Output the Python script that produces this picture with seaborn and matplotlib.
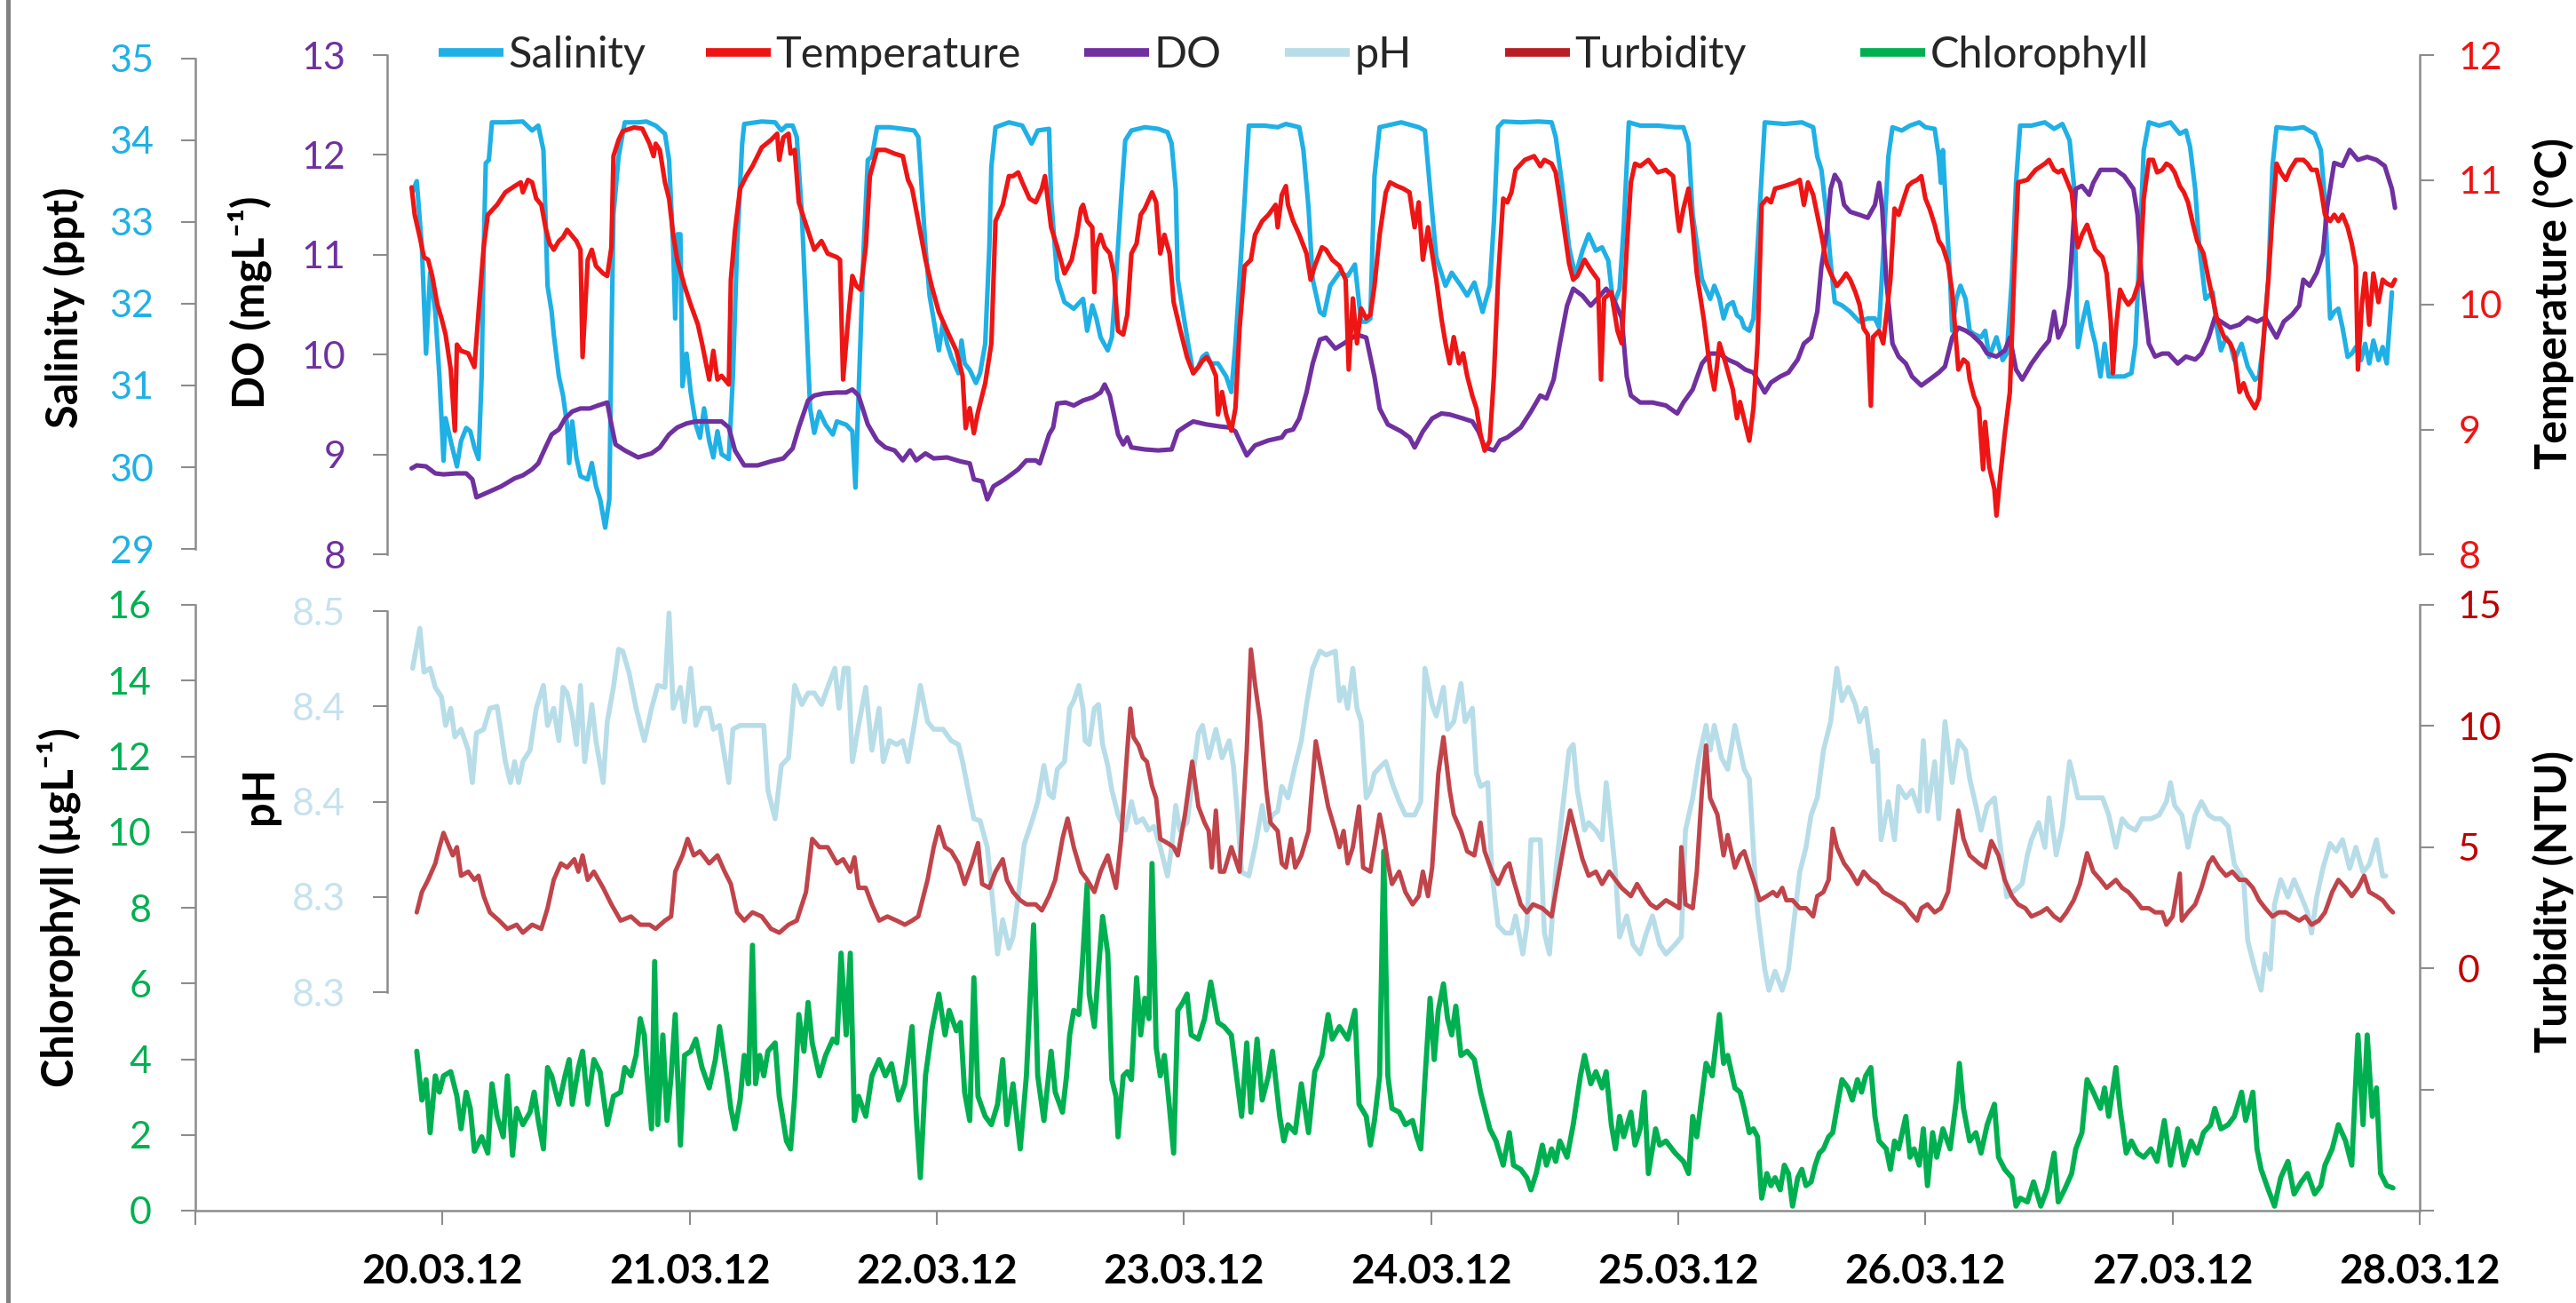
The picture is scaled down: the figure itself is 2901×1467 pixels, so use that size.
import pandas as pd
import matplotlib
matplotlib.use('Agg')
import matplotlib.pyplot as plt
from matplotlib.lines import Line2D
import seaborn as sns

# (hours since 19.03.12 00:00, value)
salinity = [
    (21.1, 33.37), (21.5, 33.50), (22.0, 32.69), (22.4, 31.39), (22.8, 32.38), (23.3, 31.90), (23.7, 31.11),
    (24.1, 30.08), (24.3, 30.60), (24.8, 30.32), (25.4, 30.01), (25.8, 30.32), (26.3, 30.48), (26.7, 30.44),
    (27.1, 30.24), (27.5, 30.10), (27.8, 31.11), (28.0, 32.65), (28.2, 33.72), (28.5, 33.76), (28.8, 34.22),
    (30.1, 34.22), (31.8, 34.23), (32.7, 34.12), (33.3, 34.18), (33.8, 33.88), (34.0, 33.09), (34.2, 32.22),
    (34.6, 31.90), (34.8, 31.63), (35.3, 31.11), (35.7, 30.88), (36.1, 30.52), (36.3, 30.05), (36.6, 30.56),
    (37.0, 30.12), (37.4, 29.89), (38.1, 29.85), (38.5, 30.05), (38.9, 29.77), (39.3, 29.61), (39.8, 29.26),
    (40.2, 29.61), (40.4, 31.51), (40.6, 33.09), (41.1, 33.80), (41.7, 34.22), (43.0, 34.22), (43.8, 34.23),
    (44.7, 34.18), (45.6, 34.08), (46.0, 33.76), (46.4, 32.69), (46.6, 31.82), (46.8, 32.85), (47.1, 32.85),
    (47.3, 30.99), (47.7, 31.39), (48.1, 30.92), (48.6, 30.52), (49.0, 30.36), (49.4, 30.72), (49.9, 30.32),
    (50.3, 30.12), (50.7, 30.44), (51.1, 30.16), (51.8, 30.10), (52.2, 31.11), (52.6, 32.69), (53.1, 33.96),
    (53.3, 34.20), (55.0, 34.23), (56.3, 34.22), (56.9, 34.12), (57.4, 34.18), (58.0, 34.18), (58.4, 34.04),
    (58.9, 33.09), (59.3, 31.90), (59.7, 30.72), (60.1, 30.42), (60.6, 30.68), (61.2, 30.52), (61.9, 30.40),
    (62.3, 30.56), (63.2, 30.52), (63.8, 30.44), (64.1, 29.75), (64.4, 30.88), (64.9, 32.69), (65.3, 33.76),
    (65.7, 33.80), (66.2, 34.16), (67.4, 34.16), (68.7, 34.14), (69.8, 34.12), (70.2, 34.04), (70.4, 33.68),
    (70.9, 32.69), (71.3, 32.10), (72.2, 31.43), (72.6, 31.78), (73.0, 31.51), (73.4, 31.35), (74.1, 31.15),
    (74.4, 31.55), (74.7, 31.27), (75.2, 31.19), (75.8, 31.03), (76.2, 31.15), (76.7, 31.51), (77.1, 32.69),
    (77.3, 33.68), (77.7, 34.16), (79.0, 34.22), (80.3, 34.18), (81.2, 33.96), (81.8, 34.12), (82.9, 34.14),
    (83.1, 33.29), (83.7, 32.30), (84.4, 32.02), (85.3, 31.94), (86.2, 32.06), (86.6, 31.67), (87.1, 31.98),
    (87.5, 31.82), (87.9, 31.59), (88.6, 31.43), (89.0, 31.59), (89.4, 32.30), (89.9, 33.29), (90.3, 34.00),
    (90.9, 34.12), (92.2, 34.16), (93.5, 34.14), (94.4, 34.10), (94.8, 33.96), (95.2, 33.40), (95.4, 32.30),
    (95.9, 31.90), (96.3, 31.59), (96.9, 31.15), (97.4, 31.23), (97.8, 31.35), (98.2, 31.39), (98.6, 31.27),
    (99.3, 31.27), (99.7, 31.19), (100.1, 31.11), (100.6, 30.92), (101.0, 31.51), (101.4, 32.30), (101.9, 33.29),
    (102.3, 34.18), (103.8, 34.18), (105.1, 34.16), (105.9, 34.20), (107.2, 34.16), (107.6, 33.88), (108.1, 33.17),
    (108.5, 32.30), (109.2, 31.90), (109.6, 31.86), (110.2, 32.22), (111.1, 32.38), (111.9, 32.34), (112.6, 32.48),
    (113.2, 31.78), (113.7, 31.78), (114.1, 31.82), (114.3, 32.69), (114.5, 33.56), (115.0, 34.16), (117.1, 34.22),
    (118.8, 34.16), (119.4, 34.12), (119.9, 33.40), (120.5, 32.57), (121.4, 32.22), (122.0, 32.38), (122.9, 32.22),
    (123.5, 32.10), (124.2, 32.26), (125.0, 31.90), (125.7, 32.22), (126.1, 33.01), (126.5, 34.16), (127.0, 34.23),
    (128.7, 34.22), (130.4, 34.23), (131.7, 34.22), (132.1, 34.04), (132.7, 33.48), (133.4, 32.69), (134.0, 32.34),
    (134.7, 32.65), (135.3, 32.85), (136.0, 32.65), (136.6, 32.69), (137.2, 32.53), (137.7, 31.98), (138.3, 32.18),
    (138.7, 32.93), (139.2, 34.22), (140.3, 34.18), (142.0, 34.18), (143.7, 34.16), (144.5, 34.16), (145.0, 33.96),
    (145.4, 33.09), (146.3, 32.30), (147.1, 32.06), (147.5, 32.22), (148.0, 32.06), (148.4, 31.82), (148.8, 31.98),
    (149.3, 32.02), (149.7, 31.86), (150.1, 31.82), (150.4, 31.71), (150.9, 31.67), (151.3, 31.82), (151.7, 32.69),
    (152.1, 33.56), (152.4, 34.22), (154.3, 34.20), (156.0, 34.22), (157.1, 34.16), (157.5, 33.80), (157.9, 33.64),
    (158.4, 33.09), (158.8, 32.50), (159.2, 32.02), (159.9, 31.98), (160.7, 31.90), (161.6, 31.78), (162.4, 31.82),
    (163.1, 31.82), (163.5, 31.71), (163.9, 32.61), (164.4, 33.80), (164.8, 34.16), (165.7, 34.12), (166.5, 34.18),
    (167.4, 34.22), (168.0, 34.16), (168.9, 34.14), (169.3, 33.80), (169.5, 33.48), (169.7, 33.88), (169.9, 33.40),
    (170.4, 32.30), (170.6, 31.67), (171.0, 32.06), (171.4, 32.22), (171.9, 32.06), (172.3, 31.67), (172.7, 31.63),
    (173.4, 31.59), (173.8, 31.67), (174.2, 31.35), (174.9, 31.59), (175.5, 31.31), (175.9, 31.39), (176.4, 32.30),
    (176.8, 33.48), (177.2, 34.18), (178.3, 34.18), (179.6, 34.22), (180.5, 34.14), (181.3, 34.20), (182.0, 34.00),
    (182.4, 33.48), (182.8, 31.47), (183.2, 31.75), (183.7, 32.02), (184.1, 31.71), (184.5, 31.51), (185.0, 31.11),
    (185.4, 31.51), (185.8, 31.11), (186.5, 31.11), (187.3, 31.11), (188.0, 31.15), (188.4, 31.51), (188.8, 32.69),
    (189.2, 33.88), (189.7, 34.22), (190.7, 34.18), (191.8, 34.22), (192.7, 34.08), (193.3, 34.12), (193.7, 33.92),
    (194.2, 33.40), (194.6, 32.69), (195.2, 32.06), (195.9, 32.14), (196.3, 31.71), (196.7, 31.43), (197.2, 31.59),
    (197.6, 31.51), (198.0, 31.31), (198.7, 31.51), (199.3, 31.23), (200.0, 31.07), (200.4, 31.11), (200.8, 31.51),
    (201.3, 32.30), (201.7, 33.68), (202.1, 34.16), (203.6, 34.14), (204.7, 34.16), (205.8, 34.08), (206.4, 33.88),
    (206.8, 33.25), (207.3, 31.82), (207.7, 31.90), (208.1, 31.94), (208.5, 31.71), (209.0, 31.35), (209.4, 31.39),
    (209.8, 31.47), (210.3, 31.31), (210.7, 31.51), (211.1, 31.27), (211.5, 31.55), (212.0, 31.31), (212.4, 31.47),
    (212.8, 31.27), (213.3, 32.14),
]

temperature = [
    (21.0, 10.94), (21.3, 10.72), (21.8, 10.54), (22.2, 10.38), (22.6, 10.36), (23.0, 10.23), (23.5, 10.00),
    (23.9, 9.89), (24.3, 9.76), (24.8, 9.48), (25.2, 8.99), (25.4, 9.68), (25.8, 9.63), (26.5, 9.61), (27.1, 9.50),
    (27.5, 9.94), (28.0, 10.46), (28.4, 10.72), (29.3, 10.80), (30.1, 10.90), (31.0, 10.95), (31.6, 10.98),
    (31.8, 10.90), (32.3, 11.00), (32.7, 10.98), (33.1, 10.85), (33.6, 10.80), (34.0, 10.62), (34.4, 10.49),
    (34.8, 10.44), (35.3, 10.51), (35.7, 10.54), (36.1, 10.60), (36.6, 10.55), (37.0, 10.51), (37.4, 10.44),
    (37.6, 9.58), (38.1, 10.36), (38.5, 10.44), (38.9, 10.31), (39.6, 10.25), (40.0, 10.23), (40.4, 10.46),
    (40.6, 11.19), (41.1, 11.32), (41.5, 11.39), (42.6, 11.42), (43.4, 11.41), (44.1, 11.29), (44.5, 11.19),
    (44.7, 11.29), (45.1, 11.24), (45.6, 10.98), (46.0, 10.85), (46.4, 10.56), (46.8, 10.36), (47.5, 10.15),
    (48.1, 10.00), (48.8, 9.84), (49.2, 9.69), (49.9, 9.40), (50.3, 9.63), (50.7, 9.40), (51.1, 9.43), (51.8, 9.36),
    (52.0, 10.20), (52.4, 10.59), (52.9, 10.93), (53.5, 11.03), (54.1, 11.11), (55.0, 11.26), (55.9, 11.32),
    (56.5, 11.37), (56.7, 11.16), (57.1, 11.34), (57.6, 11.37), (57.8, 11.21), (58.2, 11.24), (58.6, 10.82),
    (59.1, 10.69), (59.5, 10.59), (60.1, 10.44), (60.8, 10.51), (61.4, 10.41), (62.3, 10.38), (62.6, 10.36),
    (62.9, 9.40), (63.4, 9.89), (63.8, 10.23), (64.2, 10.15), (64.6, 10.12), (65.1, 10.46), (65.5, 11.03),
    (66.2, 11.24), (67.0, 11.24), (67.9, 11.21), (68.7, 11.19), (69.2, 11.00), (69.6, 10.93), (70.2, 10.67),
    (70.9, 10.36), (71.5, 10.15), (72.2, 9.94), (73.0, 9.79), (73.9, 9.63), (74.5, 9.43), (74.8, 9.01),
    (75.2, 9.17), (75.6, 8.97), (76.0, 9.14), (76.7, 9.37), (77.3, 9.69), (77.7, 10.67), (78.4, 10.80),
    (79.0, 11.03), (79.4, 11.03), (79.9, 11.06), (80.3, 10.98), (81.0, 10.85), (81.6, 10.82), (82.2, 10.93),
    (82.5, 11.03), (83.1, 10.62), (83.7, 10.46), (84.4, 10.25), (85.1, 10.36), (85.6, 10.56), (86.0, 10.77),
    (86.2, 10.80), (86.6, 10.67), (87.1, 10.62), (87.3, 10.10), (87.5, 10.46), (87.9, 10.56), (88.3, 10.46),
    (88.8, 10.41), (89.2, 10.25), (89.6, 9.79), (90.1, 9.76), (90.5, 9.92), (90.9, 10.41), (91.4, 10.49),
    (91.8, 10.72), (92.2, 10.77), (92.9, 10.90), (93.3, 10.82), (93.5, 10.62), (93.7, 10.41), (94.1, 10.56),
    (94.6, 10.41), (95.0, 10.02), (95.6, 9.81), (96.3, 9.58), (96.9, 9.45), (97.4, 9.50), (97.8, 9.55),
    (98.2, 9.58), (98.6, 9.53), (99.1, 9.43), (99.3, 9.12), (99.7, 9.30), (100.1, 9.12), (100.6, 8.99),
    (101.0, 9.17), (101.4, 9.81), (101.9, 10.31), (102.5, 10.36), (102.9, 10.56), (103.6, 10.67), (104.2, 10.72),
    (104.9, 10.80), (105.1, 10.62), (105.5, 10.88), (105.9, 10.95), (106.1, 10.80), (106.6, 10.67), (107.2, 10.56),
    (107.9, 10.41), (108.3, 10.20), (108.7, 10.31), (109.4, 10.46), (109.8, 10.44), (110.4, 10.36), (111.1, 10.31),
    (111.7, 10.20), (112.0, 9.48), (112.4, 10.05), (112.8, 9.69), (113.2, 9.97), (113.7, 9.89), (114.1, 9.92),
    (114.5, 10.15), (115.0, 10.56), (115.6, 10.90), (116.0, 10.98), (116.7, 10.95), (117.3, 10.93), (117.9, 10.90),
    (118.4, 10.62), (118.8, 10.82), (119.2, 10.36), (119.7, 10.62), (120.1, 10.41), (120.5, 10.20), (121.0, 9.89),
    (121.4, 9.69), (121.8, 9.53), (122.2, 9.74), (122.7, 9.53), (123.1, 9.61), (123.5, 9.43), (124.0, 9.27),
    (124.4, 9.17), (124.8, 8.96), (125.2, 8.83), (125.7, 8.91), (126.1, 9.43), (126.5, 10.20), (127.0, 10.85),
    (127.4, 10.82), (127.8, 10.90), (128.2, 11.08), (129.1, 11.16), (130.0, 11.19), (130.6, 11.11), (131.0, 11.16),
    (131.7, 11.13), (132.1, 11.06), (132.5, 10.85), (133.0, 10.56), (133.4, 10.33), (133.8, 10.20), (134.2, 10.23),
    (134.9, 10.36), (135.5, 10.28), (136.2, 10.20), (136.5, 9.40), (136.8, 10.05), (137.5, 10.10), (138.1, 9.79),
    (138.5, 9.69), (139.0, 10.46), (139.4, 10.98), (139.8, 11.13), (140.3, 11.11), (141.1, 11.16), (142.0, 11.06),
    (142.8, 11.08), (143.5, 11.03), (143.9, 10.72), (144.1, 10.59), (144.5, 10.77), (145.0, 10.93), (145.4, 10.62),
    (145.8, 10.25), (146.5, 9.87), (147.1, 9.48), (147.5, 9.32), (148.0, 9.69), (148.6, 9.53), (149.3, 9.32),
    (149.7, 9.09), (150.0, 9.22), (150.9, 8.91), (151.3, 9.17), (151.7, 9.69), (152.1, 10.80), (152.6, 10.85),
    (153.0, 10.82), (153.4, 10.93), (154.3, 10.95), (155.4, 10.98), (155.8, 11.00), (156.2, 10.80), (156.6, 10.98),
    (157.1, 10.88), (157.5, 10.72), (157.9, 10.56), (158.4, 10.33), (158.8, 10.25), (159.4, 10.15), (159.9, 10.20),
    (160.3, 10.25), (160.7, 10.20), (161.2, 10.10), (161.6, 10.00), (162.0, 9.81), (162.4, 9.76), (162.7, 9.19),
    (162.9, 9.74), (163.5, 9.79), (163.9, 9.69), (164.6, 10.20), (165.0, 10.77), (165.4, 10.72), (165.9, 10.85),
    (166.3, 10.95), (166.7, 10.98), (167.2, 11.00), (167.6, 11.03), (168.0, 10.85), (168.4, 10.77), (168.9, 10.64),
    (169.3, 10.51), (169.7, 10.46), (170.2, 10.33), (170.6, 10.10), (171.0, 9.69), (171.2, 9.48), (171.7, 9.56),
    (172.1, 9.53), (172.3, 9.40), (172.7, 9.27), (173.2, 9.17), (173.6, 8.68), (173.8, 9.06), (174.2, 8.70),
    (174.7, 8.52), (174.9, 8.31), (175.3, 8.65), (175.7, 8.96), (176.2, 9.30), (176.6, 10.20), (177.0, 10.98),
    (177.9, 11.00), (178.7, 11.08), (179.6, 11.13), (180.0, 11.16), (180.5, 11.08), (180.9, 11.06), (181.3, 11.08),
    (181.7, 11.00), (182.2, 10.90), (182.6, 10.59), (182.8, 10.46), (183.2, 10.56), (183.7, 10.64), (184.1, 10.54),
    (184.5, 10.44), (185.2, 10.38), (185.6, 10.25), (186.0, 9.87), (186.2, 9.45), (186.5, 9.81), (186.9, 10.12),
    (187.3, 10.05), (187.7, 10.00), (188.2, 10.05), (188.8, 10.20), (189.2, 10.85), (189.7, 11.16), (190.1, 11.16),
    (190.5, 11.06), (191.0, 11.08), (191.4, 11.13), (191.8, 11.11), (192.2, 11.06), (192.7, 10.95), (193.1, 10.90),
    (193.5, 10.82), (194.0, 10.64), (194.4, 10.51), (195.0, 10.41), (195.5, 10.20), (195.9, 10.05), (196.3, 9.89),
    (197.0, 9.74), (197.6, 9.69), (198.0, 9.61), (198.5, 9.30), (198.9, 9.37), (199.3, 9.27), (200.0, 9.17),
    (200.4, 9.25), (200.8, 9.69), (201.3, 10.20), (201.7, 10.72), (202.1, 11.13), (202.5, 11.06), (203.0, 11.00),
    (203.4, 11.08), (204.0, 11.16), (204.7, 11.16), (205.1, 11.13), (205.5, 11.08), (206.0, 11.08), (206.4, 10.93),
    (206.8, 10.72), (207.3, 10.67), (207.7, 10.72), (208.1, 10.67), (208.5, 10.72), (209.0, 10.62), (209.4, 10.49),
    (209.8, 10.31), (210.0, 9.48), (210.4, 10.02), (210.7, 10.25), (211.1, 9.84), (211.5, 10.25), (212.0, 10.02),
    (212.4, 10.20), (212.8, 10.17), (213.3, 10.15), (213.6, 10.20),
]

dissolved_oxygen = [
    (21.0, 8.86), (21.5, 8.89), (22.4, 8.88), (23.3, 8.81), (24.1, 8.80), (25.4, 8.81), (26.3, 8.81), (26.9, 8.75),
    (27.3, 8.57), (28.4, 8.62), (29.7, 8.68), (31.0, 8.76), (31.8, 8.79), (32.7, 8.85), (33.3, 8.91), (34.0, 9.07),
    (34.6, 9.20), (35.3, 9.25), (35.9, 9.36), (36.6, 9.43), (37.4, 9.46), (38.3, 9.46), (39.1, 9.49), (40.0, 9.52),
    (40.4, 9.30), (40.8, 9.10), (41.7, 9.04), (43.0, 8.97), (44.3, 9.01), (45.1, 9.07), (46.0, 9.20), (46.8, 9.27),
    (47.7, 9.31), (48.6, 9.33), (49.9, 9.33), (51.1, 9.33), (51.8, 9.27), (52.4, 9.04), (53.3, 8.89), (54.6, 8.89),
    (55.9, 8.93), (57.1, 8.96), (58.0, 9.06), (58.6, 9.27), (59.5, 9.54), (60.1, 9.59), (61.0, 9.61), (62.3, 9.62),
    (63.2, 9.62), (63.8, 9.65), (64.4, 9.59), (65.3, 9.30), (66.2, 9.14), (67.0, 9.07), (67.9, 9.04), (68.7, 8.94),
    (69.4, 9.04), (70.0, 8.94), (70.9, 9.01), (71.7, 8.96), (73.0, 8.97), (74.3, 8.93), (75.2, 8.91), (75.6, 8.75),
    (76.4, 8.73), (76.9, 8.55), (77.5, 8.68), (78.6, 8.75), (79.9, 8.85), (80.7, 8.94), (81.6, 8.94), (82.0, 8.91),
    (82.9, 9.20), (83.3, 9.27), (83.7, 9.51), (84.5, 9.52), (85.3, 9.49), (86.2, 9.54), (87.1, 9.57), (87.9, 9.62),
    (88.3, 9.70), (88.8, 9.59), (89.2, 9.40), (89.6, 9.20), (90.1, 9.10), (90.5, 9.17), (90.9, 9.07), (92.2, 9.05),
    (93.5, 9.04), (94.8, 9.05), (95.4, 9.23), (96.1, 9.28), (96.9, 9.33), (98.2, 9.30), (99.5, 9.28), (100.4, 9.27),
    (101.0, 9.23), (101.4, 9.14), (102.1, 8.99), (102.9, 9.09), (104.2, 9.14), (105.5, 9.17), (105.9, 9.23),
    (106.6, 9.25), (107.2, 9.36), (107.9, 9.62), (108.5, 9.91), (109.2, 10.15), (109.8, 10.17), (110.7, 10.06),
    (111.5, 10.11), (112.8, 10.20), (113.7, 10.17), (114.5, 9.78), (115.0, 9.46), (115.8, 9.30), (117.1, 9.23),
    (117.9, 9.17), (118.4, 9.07), (119.2, 9.23), (120.1, 9.36), (121.0, 9.41), (121.8, 9.40), (123.1, 9.36),
    (124.0, 9.33), (124.6, 9.23), (125.2, 9.07), (126.1, 9.04), (126.7, 9.14), (127.4, 9.17), (128.7, 9.27),
    (129.7, 9.43), (130.6, 9.59), (131.2, 9.56), (131.9, 9.75), (132.5, 10.11), (133.2, 10.49), (133.8, 10.66),
    (134.7, 10.59), (135.5, 10.49), (136.4, 10.59), (137.0, 10.66), (137.7, 10.56), (138.5, 10.37), (139.0, 9.78),
    (139.4, 9.59), (140.3, 9.52), (141.5, 9.52), (142.8, 9.49), (143.9, 9.41), (144.5, 9.52), (145.4, 9.65),
    (146.3, 9.91), (147.1, 10.01), (148.0, 10.01), (148.8, 9.95), (149.7, 9.91), (150.5, 9.85), (151.3, 9.82),
    (152.4, 9.62), (153.0, 9.72), (153.9, 9.78), (154.7, 9.82), (155.6, 9.95), (156.2, 10.11), (156.9, 10.17),
    (157.5, 10.43), (157.9, 10.88), (158.4, 11.21), (158.8, 11.66), (159.2, 11.80), (159.7, 11.72), (160.1, 11.50),
    (160.7, 11.43), (161.6, 11.40), (162.4, 11.37), (163.1, 11.50), (163.5, 11.72), (163.8, 11.47), (164.2, 10.75),
    (164.8, 10.11), (165.4, 9.98), (166.1, 9.91), (166.7, 9.78), (167.6, 9.69), (168.4, 9.75), (169.3, 9.82),
    (169.9, 9.88), (170.6, 10.17), (171.2, 10.27), (171.9, 10.24), (172.5, 10.20), (173.4, 10.11), (174.0, 10.01),
    (174.9, 9.98), (175.7, 10.04), (176.2, 10.17), (176.8, 9.85), (177.4, 9.75), (178.3, 9.91), (179.2, 10.04),
    (180.0, 10.14), (180.5, 10.43), (180.9, 10.17), (181.5, 10.30), (182.0, 10.69), (182.6, 11.66), (183.2, 11.69),
    (183.9, 11.60), (184.3, 11.72), (185.0, 11.85), (185.6, 11.85), (186.5, 11.85), (187.3, 11.79), (188.2, 11.66),
    (188.6, 11.40), (189.0, 10.75), (189.7, 10.11), (190.3, 9.98), (191.0, 10.01), (191.6, 10.01), (192.5, 9.91),
    (193.3, 9.98), (194.2, 9.95), (194.8, 10.01), (195.5, 10.17), (196.1, 10.37), (196.7, 10.33), (197.6, 10.27),
    (198.5, 10.30), (199.3, 10.37), (200.2, 10.33), (201.0, 10.37), (201.7, 10.24), (202.1, 10.17), (202.8, 10.33),
    (203.6, 10.40), (204.3, 10.49), (204.7, 10.75), (205.3, 10.69), (206.0, 10.82), (206.6, 11.01), (207.0, 11.47),
    (207.7, 11.92), (208.5, 11.89), (209.2, 12.05), (210.0, 11.95), (210.9, 11.98), (211.8, 11.95), (212.6, 11.89),
    (213.3, 11.66), (213.6, 11.47),
]

ph = [
    (21.1, 8.470), (21.8, 8.491), (22.2, 8.468), (22.8, 8.470), (23.3, 8.460), (23.9, 8.455), (24.3, 8.440),
    (24.8, 8.449), (25.2, 8.434), (25.8, 8.438), (26.5, 8.427), (26.9, 8.410), (27.3, 8.436), (28.0, 8.438),
    (28.6, 8.449), (29.3, 8.450), (29.7, 8.436), (30.1, 8.421), (30.6, 8.410), (31.0, 8.421), (31.4, 8.410),
    (31.8, 8.421), (32.5, 8.427), (33.1, 8.449), (33.8, 8.461), (34.2, 8.440), (34.8, 8.449), (35.3, 8.432),
    (35.7, 8.460), (36.1, 8.457), (36.6, 8.445), (37.0, 8.430), (37.4, 8.461), (37.8, 8.421), (38.5, 8.451),
    (38.9, 8.432), (39.6, 8.410), (40.0, 8.442), (40.6, 8.460), (41.1, 8.480), (41.5, 8.479), (42.1, 8.468),
    (42.8, 8.449), (43.6, 8.432), (44.3, 8.449), (44.9, 8.461), (45.6, 8.460), (46.0, 8.499), (46.4, 8.449),
    (47.1, 8.460), (47.5, 8.442), (48.1, 8.470), (48.6, 8.440), (49.2, 8.449), (49.9, 8.449), (50.3, 8.438),
    (50.9, 8.440), (51.8, 8.410), (52.2, 8.438), (52.9, 8.440), (54.1, 8.440), (55.2, 8.440), (55.6, 8.406),
    (56.3, 8.391), (56.9, 8.419), (57.6, 8.423), (58.2, 8.461), (58.9, 8.451), (59.5, 8.457), (60.1, 8.457),
    (60.8, 8.451), (61.4, 8.460), (62.1, 8.470), (62.5, 8.449), (63.0, 8.470), (63.4, 8.470), (63.8, 8.421),
    (64.4, 8.440), (65.1, 8.460), (65.7, 8.427), (66.4, 8.449), (66.8, 8.421), (67.4, 8.432), (68.1, 8.430),
    (68.7, 8.432), (69.2, 8.421), (69.8, 8.440), (70.4, 8.461), (71.1, 8.442), (71.7, 8.438), (72.6, 8.438),
    (73.4, 8.432), (74.1, 8.430), (74.5, 8.421), (74.9, 8.410), (75.6, 8.391), (76.2, 8.390), (76.9, 8.376),
    (77.3, 8.355), (77.9, 8.320), (78.4, 8.338), (79.0, 8.323), (79.4, 8.329), (79.9, 8.350), (80.5, 8.378),
    (81.2, 8.389), (81.8, 8.400), (82.4, 8.419), (82.9, 8.404), (83.3, 8.402), (83.7, 8.417), (84.4, 8.421),
    (84.9, 8.449), (85.3, 8.453), (85.8, 8.461), (86.2, 8.449), (86.4, 8.432), (86.8, 8.430), (87.3, 8.449),
    (87.7, 8.451), (88.1, 8.430), (88.6, 8.419), (89.0, 8.406), (89.6, 8.393), (90.3, 8.385), (90.9, 8.400),
    (91.4, 8.389), (92.0, 8.391), (92.6, 8.385), (93.1, 8.387), (93.7, 8.376), (94.4, 8.361), (94.8, 8.376),
    (95.2, 8.398), (95.6, 8.385), (96.3, 8.389), (96.7, 8.406), (97.4, 8.436), (97.8, 8.440), (98.4, 8.423),
    (99.1, 8.438), (99.7, 8.423), (100.4, 8.432), (100.8, 8.419), (101.2, 8.393), (101.6, 8.363), (102.3, 8.361),
    (102.9, 8.376), (103.6, 8.398), (104.0, 8.385), (104.6, 8.393), (105.1, 8.395), (105.5, 8.408), (106.1, 8.402),
    (106.8, 8.419), (107.4, 8.432), (107.9, 8.451), (108.5, 8.470), (109.2, 8.479), (109.8, 8.477), (110.7, 8.479),
    (111.1, 8.453), (111.5, 8.460), (111.9, 8.449), (112.4, 8.470), (112.8, 8.449), (113.2, 8.442), (113.7, 8.402),
    (114.1, 8.406), (114.5, 8.415), (115.2, 8.419), (115.6, 8.421), (116.2, 8.410), (116.9, 8.400), (117.5, 8.393),
    (118.4, 8.393), (119.0, 8.400), (119.4, 8.470), (120.1, 8.451), (120.5, 8.445), (121.2, 8.460), (121.6, 8.438),
    (122.2, 8.442), (122.9, 8.462), (123.3, 8.442), (124.0, 8.449), (124.4, 8.415), (124.8, 8.408), (125.5, 8.410),
    (125.9, 8.363), (126.5, 8.335), (127.2, 8.331), (127.8, 8.331), (128.2, 8.340), (128.9, 8.320), (129.3, 8.335),
    (129.7, 8.380), (130.2, 8.380), (130.6, 8.380), (131.0, 8.331), (131.5, 8.320), (132.1, 8.363), (132.7, 8.393),
    (133.4, 8.427), (133.8, 8.430), (134.2, 8.406), (134.9, 8.385), (135.3, 8.389), (136.0, 8.385), (136.6, 8.380),
    (137.0, 8.410), (137.5, 8.385), (137.9, 8.363), (138.3, 8.329), (139.0, 8.340), (139.6, 8.325), (140.3, 8.320),
    (140.9, 8.331), (141.5, 8.340), (142.2, 8.325), (142.8, 8.320), (143.7, 8.325), (144.3, 8.329), (144.7, 8.385),
    (145.4, 8.402), (146.0, 8.423), (146.7, 8.440), (147.1, 8.427), (147.5, 8.440), (148.2, 8.423), (148.8, 8.417),
    (149.5, 8.440), (150.4, 8.417), (150.9, 8.412), (151.3, 8.374), (151.7, 8.342), (152.4, 8.312), (152.8, 8.301),
    (153.4, 8.311), (154.1, 8.301), (154.7, 8.312), (155.1, 8.331), (155.8, 8.363), (156.4, 8.376), (156.9, 8.393),
    (157.5, 8.402), (158.1, 8.427), (158.8, 8.442), (159.4, 8.470), (159.9, 8.453), (160.5, 8.460), (161.2, 8.451),
    (161.6, 8.442), (162.2, 8.449), (162.9, 8.421), (163.3, 8.427), (163.7, 8.380), (164.4, 8.400), (165.0, 8.380),
    (165.4, 8.408), (166.1, 8.402), (166.7, 8.406), (167.4, 8.395), (167.8, 8.432), (168.2, 8.395), (168.9, 8.421),
    (169.3, 8.391), (169.9, 8.442), (170.6, 8.410), (171.2, 8.432), (171.9, 8.427), (172.3, 8.412), (172.9, 8.398),
    (173.4, 8.385), (174.0, 8.398), (174.7, 8.402), (175.3, 8.376), (175.9, 8.350), (176.6, 8.353), (177.4, 8.357),
    (177.9, 8.372), (178.3, 8.380), (179.0, 8.389), (179.6, 8.376), (180.0, 8.402), (180.7, 8.372), (181.3, 8.387),
    (182.0, 8.421), (182.4, 8.412), (182.8, 8.402), (183.5, 8.402), (184.3, 8.402), (185.2, 8.402), (185.8, 8.393),
    (186.5, 8.376), (187.1, 8.391), (187.7, 8.387), (188.4, 8.385), (189.0, 8.391), (189.9, 8.391), (190.7, 8.393),
    (191.4, 8.400), (191.8, 8.410), (192.2, 8.398), (192.9, 8.393), (193.5, 8.376), (194.2, 8.393), (194.8, 8.400),
    (195.5, 8.393), (196.1, 8.391), (196.7, 8.391), (197.4, 8.387), (198.0, 8.367), (198.9, 8.359), (199.3, 8.327),
    (200.0, 8.312), (200.6, 8.301), (201.0, 8.320), (201.5, 8.312), (201.9, 8.346), (202.5, 8.359), (203.2, 8.350),
    (203.8, 8.359), (204.5, 8.350), (205.1, 8.342), (205.5, 8.331), (206.0, 8.350), (206.6, 8.365), (207.3, 8.378),
    (207.9, 8.374), (208.5, 8.380), (209.2, 8.365), (209.8, 8.376), (210.5, 8.363), (211.1, 8.367), (211.8, 8.380),
    (212.4, 8.361), (212.7, 8.361),
]

turbidity = [
    (21.5, 2.31), (22.0, 3.15), (22.6, 3.65), (23.3, 4.33), (23.7, 5.00), (24.1, 5.59), (24.5, 5.17), (25.0, 4.66),
    (25.4, 5.00), (25.8, 3.82), (26.5, 3.99), (27.1, 3.65), (27.5, 3.82), (28.0, 2.98), (28.6, 2.31), (29.5, 1.97),
    (30.3, 1.63), (31.2, 1.80), (31.8, 1.47), (32.7, 1.80), (33.6, 1.63), (34.2, 2.48), (34.8, 3.65), (35.5, 4.33),
    (36.1, 4.16), (36.8, 4.50), (37.2, 3.99), (37.6, 4.66), (38.1, 3.65), (38.7, 3.99), (39.6, 3.32), (40.4, 2.64),
    (41.3, 1.97), (42.3, 2.14), (43.2, 1.80), (44.1, 1.80), (44.7, 1.63), (45.6, 1.97), (46.2, 2.14), (46.6, 3.99),
    (47.3, 4.66), (47.8, 5.34), (48.4, 4.66), (49.0, 4.83), (49.9, 4.33), (50.7, 4.66), (51.4, 3.99), (52.0, 3.48),
    (52.6, 2.31), (53.3, 1.97), (54.1, 2.31), (55.0, 2.14), (55.9, 1.63), (56.7, 1.47), (57.6, 1.80), (58.4, 1.97),
    (59.3, 3.15), (59.9, 5.34), (60.6, 5.00), (61.4, 5.00), (62.3, 4.33), (62.9, 4.50), (63.6, 3.99), (64.0, 4.58),
    (64.4, 3.32), (65.1, 3.32), (65.7, 2.64), (66.4, 1.97), (67.2, 2.14), (68.1, 1.97), (68.9, 1.80), (69.6, 1.97),
    (70.2, 2.14), (71.1, 3.65), (71.7, 5.00), (72.2, 5.84), (72.8, 5.00), (73.4, 4.83), (74.1, 4.33), (74.7, 3.48),
    (75.4, 4.33), (76.0, 5.17), (76.4, 3.48), (77.1, 3.32), (77.7, 3.99), (78.4, 4.50), (78.8, 3.65), (79.4, 3.15),
    (80.1, 2.81), (80.7, 2.64), (81.6, 2.64), (82.2, 2.39), (82.9, 2.98), (83.5, 3.65), (84.2, 5.34), (84.7, 6.18),
    (85.3, 5.00), (86.0, 3.99), (86.6, 3.65), (87.3, 3.15), (87.9, 3.99), (88.6, 4.66), (89.0, 3.99), (89.4, 3.32),
    (89.9, 5.34), (90.5, 9.04), (90.8, 10.72), (91.1, 9.54), (91.6, 9.20), (92.0, 8.70), (92.4, 8.53), (92.9, 7.52),
    (93.3, 7.02), (93.7, 5.34), (94.4, 5.17), (95.0, 5.00), (95.4, 4.66), (96.1, 6.35), (96.8, 8.53), (97.4, 6.68),
    (98.0, 6.01), (98.4, 5.67), (98.7, 4.16), (99.1, 6.51), (99.5, 3.99), (99.9, 3.99), (100.6, 5.00), (101.0, 4.50),
    (101.4, 3.99), (102.1, 9.04), (102.5, 13.16), (102.9, 11.73), (103.4, 10.22), (104.0, 7.36), (104.4, 6.01),
    (105.1, 5.67), (105.5, 4.33), (105.9, 4.16), (106.4, 5.34), (106.8, 4.16), (107.4, 4.66), (108.1, 5.67),
    (108.8, 9.37), (109.4, 8.03), (110.0, 6.68), (110.7, 5.67), (111.1, 5.00), (111.5, 5.67), (111.9, 4.33),
    (112.4, 5.00), (113.0, 6.68), (113.4, 4.16), (114.1, 3.99), (114.5, 5.00), (115.0, 6.35), (115.4, 5.50),
    (115.8, 4.33), (116.2, 3.48), (116.9, 3.99), (117.5, 3.15), (118.2, 2.64), (118.8, 2.98), (119.2, 3.99),
    (119.7, 2.98), (120.1, 4.16), (120.7, 8.03), (121.2, 9.54), (121.8, 7.36), (122.2, 6.35), (122.9, 5.67),
    (123.5, 4.83), (124.2, 4.66), (124.8, 6.01), (125.2, 4.83), (125.9, 3.99), (126.5, 3.48), (127.2, 4.16),
    (127.6, 4.33), (128.0, 3.65), (128.7, 2.64), (129.3, 2.31), (129.9, 2.64), (130.8, 2.48), (131.7, 2.14),
    (132.3, 3.65), (133.0, 5.34), (133.5, 6.51), (134.0, 5.67), (134.7, 4.50), (135.3, 3.82), (136.0, 3.99),
    (136.6, 3.48), (137.3, 3.99), (137.9, 3.65), (138.5, 3.32), (139.4, 2.98), (140.0, 3.48), (140.7, 2.98),
    (141.3, 2.64), (141.9, 2.48), (142.8, 2.81), (143.5, 2.64), (144.1, 2.48), (144.3, 5.00), (144.7, 2.64),
    (145.4, 2.48), (145.8, 3.99), (146.3, 7.36), (146.7, 9.20), (147.1, 7.02), (147.8, 6.35), (148.4, 4.66),
    (148.8, 5.50), (149.5, 4.16), (150.0, 4.66), (150.4, 4.83), (150.9, 4.16), (151.3, 3.65), (151.9, 2.81),
    (152.6, 2.98), (153.2, 3.15), (153.6, 2.98), (154.1, 3.32), (154.5, 2.81), (155.1, 2.81), (155.8, 2.48),
    (156.4, 2.48), (157.1, 2.14), (157.5, 2.98), (158.1, 3.15), (158.6, 3.65), (159.0, 5.76), (159.4, 5.00),
    (160.1, 4.33), (160.7, 3.99), (161.4, 3.48), (162.0, 3.99), (162.7, 3.65), (163.3, 3.48), (163.9, 3.15),
    (164.6, 2.98), (165.2, 2.81), (165.9, 2.64), (166.5, 2.31), (167.2, 1.97), (167.6, 2.48), (168.2, 2.64),
    (168.9, 2.31), (169.5, 2.48), (170.2, 3.15), (170.7, 4.83), (171.2, 6.51), (171.7, 5.34), (172.3, 4.66),
    (173.2, 4.33), (173.8, 4.16), (174.4, 5.25), (175.1, 4.66), (175.7, 3.65), (176.4, 2.98), (177.0, 2.64),
    (177.7, 2.48), (178.3, 2.14), (179.2, 2.31), (179.8, 2.48), (180.5, 2.14), (181.1, 1.97), (181.7, 2.31),
    (182.4, 2.81), (183.0, 3.48), (183.7, 4.75), (184.3, 3.99), (185.0, 3.65), (185.6, 3.32), (186.5, 3.65),
    (187.1, 3.32), (187.7, 3.15), (188.4, 2.81), (189.0, 2.48), (189.7, 2.48), (190.3, 2.31), (191.0, 2.31),
    (191.4, 1.80), (192.0, 2.14), (192.7, 3.91), (192.9, 1.97), (193.5, 2.31), (194.2, 2.64), (194.8, 3.32),
    (195.5, 4.33), (195.9, 4.58), (196.5, 4.16), (197.2, 3.82), (197.8, 3.99), (198.5, 3.65), (199.1, 3.65),
    (199.8, 3.32), (200.4, 2.81), (201.0, 2.48), (201.7, 2.14), (202.3, 2.31), (203.0, 2.31), (203.6, 2.14),
    (204.3, 1.97), (204.9, 2.14), (205.5, 1.80), (206.2, 1.97), (206.8, 2.31), (207.5, 3.15), (208.1, 3.65),
    (208.8, 3.32), (209.4, 2.98), (210.0, 3.32), (210.6, 3.82), (211.1, 3.15), (211.8, 2.98), (212.4, 2.81),
    (213.0, 2.48), (213.4, 2.31),
]

chlorophyll = [
    (21.5, 4.21), (22.0, 2.92), (22.4, 3.46), (22.8, 2.06), (23.3, 3.56), (23.7, 3.13), (24.1, 3.56), (24.8, 3.67),
    (25.4, 3.02), (25.8, 2.16), (26.3, 3.13), (26.7, 2.70), (27.1, 1.57), (27.8, 1.95), (28.4, 1.52), (28.8, 3.35),
    (29.3, 2.49), (29.9, 1.95), (30.3, 3.56), (30.8, 1.46), (31.2, 2.70), (31.8, 2.27), (32.5, 2.60), (32.9, 3.13),
    (33.3, 2.38), (33.8, 1.63), (34.2, 3.78), (34.6, 3.56), (35.3, 2.81), (35.9, 3.56), (36.3, 3.99), (36.6, 2.81),
    (37.2, 3.78), (37.6, 4.21), (38.1, 2.81), (38.7, 3.99), (39.3, 3.67), (40.0, 2.27), (40.6, 3.02), (41.3, 3.13),
    (41.7, 3.78), (42.3, 3.56), (42.8, 4.10), (43.2, 5.07), (43.6, 4.64), (43.8, 3.78), (44.3, 2.16), (44.6, 6.58),
    (44.9, 2.27), (45.4, 4.64), (45.8, 2.38), (46.2, 3.56), (46.6, 5.18), (47.1, 1.73), (47.5, 4.10), (48.1, 4.21),
    (48.6, 4.53), (49.2, 3.78), (49.9, 3.24), (50.5, 3.99), (50.9, 4.86), (51.6, 3.56), (52.0, 2.70), (52.4, 2.16),
    (52.9, 2.92), (53.3, 4.10), (53.7, 3.35), (54.1, 7.01), (54.4, 3.35), (54.8, 4.10), (55.2, 3.56), (55.6, 4.21),
    (56.3, 4.43), (56.7, 3.02), (57.4, 1.84), (57.8, 1.63), (58.2, 3.02), (58.6, 5.18), (59.1, 4.21), (59.5, 5.50),
    (59.9, 4.43), (60.6, 3.56), (61.2, 4.10), (61.9, 4.53), (62.3, 4.43), (62.7, 6.80), (63.2, 4.64), (63.6, 6.80),
    (64.0, 2.38), (64.4, 3.02), (65.1, 2.49), (65.7, 3.56), (66.4, 3.99), (67.0, 3.56), (67.6, 3.88), (68.3, 2.92),
    (68.9, 3.35), (69.6, 4.86), (70.0, 2.49), (70.4, 0.87), (70.9, 3.56), (71.5, 4.75), (72.2, 5.72), (72.8, 4.64),
    (73.2, 5.29), (73.9, 4.75), (74.3, 4.97), (74.7, 3.13), (75.2, 2.38), (75.6, 6.15), (76.0, 3.02), (76.7, 2.49),
    (77.3, 2.27), (77.9, 2.81), (78.4, 3.99), (78.8, 2.27), (79.4, 3.35), (80.1, 1.63), (80.7, 3.56), (81.4, 7.55),
    (81.8, 3.56), (82.4, 2.38), (83.1, 4.21), (83.5, 3.13), (84.2, 2.60), (84.6, 3.56), (84.9, 4.64), (85.3, 5.29),
    (85.8, 5.18), (86.2, 6.80), (86.6, 8.63), (86.8, 5.72), (87.3, 4.86), (87.7, 6.37), (88.1, 7.77), (88.6, 6.80),
    (89.0, 3.46), (89.4, 3.02), (89.6, 1.95), (90.1, 3.56), (90.5, 3.67), (90.9, 3.46), (91.4, 6.15), (91.8, 4.64),
    (92.2, 5.61), (92.6, 5.07), (92.9, 9.17), (93.3, 4.32), (93.7, 3.56), (94.1, 4.10), (94.6, 2.70), (95.0, 1.52),
    (95.4, 5.29), (95.9, 5.50), (96.3, 5.72), (96.7, 4.64), (97.4, 4.53), (98.0, 5.07), (98.6, 6.04), (99.3, 4.97),
    (99.9, 4.86), (100.6, 4.64), (101.0, 3.78), (101.6, 2.49), (102.1, 4.43), (102.5, 2.60), (103.1, 4.53),
    (103.6, 2.92), (104.2, 3.56), (104.6, 4.21), (105.3, 2.49), (105.7, 1.84), (106.1, 2.27), (106.8, 2.06),
    (107.4, 3.35), (108.1, 2.06), (108.7, 3.67), (109.4, 4.10), (110.0, 5.18), (110.4, 4.53), (111.1, 4.86),
    (111.9, 4.53), (112.6, 5.29), (113.0, 2.81), (113.7, 2.49), (114.1, 1.73), (114.5, 2.38), (115.0, 3.56),
    (115.4, 9.49), (115.8, 3.56), (116.2, 2.70), (116.9, 2.60), (117.5, 2.27), (118.2, 2.38), (118.6, 1.95),
    (119.0, 1.63), (119.4, 3.46), (119.9, 5.61), (120.3, 3.99), (120.7, 5.29), (121.2, 5.99), (121.6, 5.07),
    (122.0, 4.64), (122.4, 5.40), (122.9, 4.10), (123.5, 4.21), (124.2, 3.99), (124.8, 3.13), (125.7, 2.16),
    (126.3, 1.84), (127.0, 1.20), (127.6, 2.06), (128.0, 1.20), (128.7, 1.09), (129.3, 0.87), (129.7, 0.55),
    (130.2, 0.98), (130.8, 1.73), (131.2, 1.20), (131.7, 1.63), (132.1, 1.30), (132.5, 1.84), (133.2, 1.41),
    (133.8, 2.27), (134.5, 3.56), (134.9, 4.10), (135.5, 3.35), (136.0, 3.67), (136.6, 3.24), (137.0, 3.67),
    (137.5, 2.27), (137.9, 1.63), (138.3, 2.49), (138.7, 1.95), (139.4, 2.60), (139.8, 1.73), (140.3, 2.16),
    (140.7, 3.13), (141.1, 0.98), (141.8, 2.16), (142.2, 1.73), (142.8, 1.84), (143.7, 1.52), (144.5, 1.30),
    (145.0, 0.98), (145.4, 2.49), (145.8, 1.95), (146.7, 3.89), (147.3, 3.56), (148.0, 5.18), (148.4, 3.89),
    (148.8, 4.10), (149.5, 3.24), (150.0, 3.13), (150.4, 2.70), (150.9, 2.06), (151.3, 2.16), (151.7, 1.95),
    (152.1, 0.33), (152.6, 0.98), (153.0, 0.66), (153.4, 0.87), (153.9, 0.55), (154.3, 1.20), (154.7, 0.98),
    (155.1, 0.12), (155.6, 0.87), (156.0, 1.09), (156.4, 0.66), (156.9, 0.76), (157.3, 1.20), (157.7, 1.52),
    (158.1, 1.63), (158.6, 1.95), (159.0, 2.06), (159.4, 2.70), (159.9, 3.46), (160.5, 3.24), (160.9, 2.92),
    (161.4, 3.46), (161.8, 3.13), (162.2, 3.56), (162.7, 3.78), (163.1, 2.49), (163.5, 1.84), (164.2, 1.63),
    (164.6, 1.09), (165.0, 1.84), (165.4, 1.63), (166.1, 2.49), (166.5, 1.41), (166.9, 1.63), (167.4, 1.20),
    (167.8, 2.16), (168.2, 0.66), (168.7, 2.06), (169.1, 1.41), (169.7, 2.16), (170.4, 1.63), (171.0, 2.92),
    (171.3, 3.89), (171.7, 2.70), (172.3, 1.84), (172.9, 2.06), (173.4, 1.52), (174.0, 2.27), (174.7, 2.81),
    (175.1, 1.41), (175.7, 1.09), (176.4, 0.87), (176.8, 0.12), (177.2, 0.33), (177.9, 0.23), (178.5, 0.76),
    (179.2, 0.12), (179.8, 0.55), (180.5, 1.52), (180.9, 0.23), (181.5, 0.55), (182.2, 0.98), (182.6, 1.63),
    (183.2, 2.06), (183.7, 3.46), (184.3, 3.13), (185.0, 2.70), (185.4, 3.24), (185.8, 2.49), (186.5, 3.78),
    (186.9, 2.70), (187.5, 1.52), (188.0, 1.84), (188.6, 1.52), (189.2, 1.41), (189.9, 1.63), (190.5, 1.30),
    (191.2, 2.38), (191.8, 1.20), (192.5, 2.16), (193.1, 1.20), (193.8, 1.84), (194.4, 1.52), (195.0, 2.06),
    (195.7, 2.27), (196.1, 2.70), (196.7, 2.16), (197.4, 2.27), (198.0, 2.49), (198.7, 3.13), (199.1, 2.38),
    (199.8, 3.13), (200.2, 1.63), (200.6, 1.09), (201.3, 0.55), (201.9, 0.12), (202.5, 0.87), (203.2, 1.30),
    (203.8, 0.44), (204.5, 0.76), (205.1, 0.98), (205.8, 0.44), (206.4, 0.66), (206.8, 1.20), (207.5, 1.63),
    (208.1, 2.27), (208.8, 1.84), (209.4, 1.20), (210.0, 4.64), (210.5, 2.27), (210.9, 4.64), (211.4, 2.49),
    (211.8, 3.24), (212.2, 0.98), (212.8, 0.66), (213.4, 0.60),
]

date_labels = ['', '20.03.12', '21.03.12', '22.03.12', '23.03.12', '24.03.12',
               '25.03.12', '26.03.12', '27.03.12', '28.03.12']
ph_tick_labels = ['8.3', '8.3', '8.4', '8.4', '8.5']
turb_tick_labels = ['', '', '0', '5', '10', '15']
legend_names = ['Salinity', 'Temperature', 'DO', 'pH', 'Turbidity', 'Chlorophyll']

START = pd.Timestamp('2012-03-19')


def to_frame(pairs):
    df = pd.DataFrame(pairs, columns=['hours', 'value'])
    df['time'] = START + pd.to_timedelta(df['hours'], unit='h')
    return df


C_SAL = '#1fb0e6'
C_TEMP = '#ee1515'
C_DO = '#7030a0'
C_PH = '#b7dde8'
C_TURB = '#c0444a'
C_CHL = '#00b050'
GREY = '#8c8c8c'

sns.set_style('white')
plt.rcParams['font.family'] = ['Lato', 'DejaVu Sans']

W, H = 2901, 1467
fig = plt.figure(figsize=(W / 100, H / 100), dpi=100)
LEFT, RIGHT = 220, 2725
inner_pos = (436 - LEFT) / (RIGHT - LEFT)

ax_sal = fig.add_axes([LEFT / W, 1 - 624 / H, (RIGHT - LEFT) / W, (624 - 62) / H])
ax_chl = fig.add_axes([LEFT / W, 1 - 1363 / H, (RIGHT - LEFT) / W, (1363 - 681) / H], sharex=ax_sal)
ax_do = ax_sal.twinx()
ax_temp = ax_sal.twinx()
ax_ph = ax_chl.twinx()
ax_turb = ax_chl.twinx()

series = [
    (ax_sal, salinity, C_SAL, 3.7),
    (ax_do, dissolved_oxygen, C_DO, 3.7),
    (ax_temp, temperature, C_TEMP, 3.7),
    (ax_chl, chlorophyll, C_CHL, 4.2),
    (ax_ph, ph, C_PH, 4.0),
    (ax_turb, turbidity, C_TURB, 3.6),
]
for ax, pairs, color, lw in series:
    sns.lineplot(data=to_frame(pairs), x='time', y='value', ax=ax, color=color,
                 linewidth=lw, estimator=None, sort=False, legend=False)
    ax.set_xlabel('')
    ax.set_ylabel('')
    for s in ax.spines.values():
        s.set_visible(False)
        s.set_color(GREY)
        s.set_linewidth(1.8)


def style_y(ax, side, color, ticks, labels, pad, lim, bounds=None, pos=None):
    ax.set_ylim(*lim)
    ax.set_yticks(ticks)
    ax.set_yticklabels(labels)
    if side == 'left':
        ax.yaxis.tick_left()
    else:
        ax.yaxis.tick_right()
    sp = ax.spines[side]
    sp.set_visible(True)
    if pos is not None:
        sp.set_position(('axes', pos))
    if bounds is not None:
        sp.set_bounds(*bounds)
    ax.tick_params(axis='y', which='both', direction='out', length=11.5, width=1.5,
                   color=GREY, labelcolor=color, labelsize=31, pad=pad)


style_y(ax_sal, 'left', C_SAL, range(29, 36), [str(v) for v in range(29, 36)], 22,
        (28.935, 35.043), bounds=(29, 35))
style_y(ax_do, 'left', C_DO, range(8, 14), [str(v) for v in range(8, 14)], 22,
        (8, 13), pos=inner_pos)
style_y(ax_temp, 'right', C_TEMP, range(8, 13), [str(v) for v in range(8, 13)], 20, (8, 12))
style_y(ax_chl, 'left', C_CHL, range(0, 17, 2), [str(v) for v in range(0, 17, 2)], 24, (0, 16))
style_y(ax_ph, 'left', '#c6e2ee', [8.30, 8.35, 8.40, 8.45, 8.50], ph_tick_labels, 22,
        (8.1853, 8.5033), bounds=(8.3, 8.5), pos=inner_pos)
style_y(ax_turb, 'right', '#c00000', [-10, -5, 0, 5, 10, 15], turb_tick_labels, 19, (-10, 15))

# shared time axis
days = pd.date_range('2012-03-19', '2012-03-28', freq='D')
ax_chl.set_xlim(days[0], days[-1])
ax_chl.set_xticks(days)
ax_chl.set_xticklabels(date_labels, fontsize=33, fontweight='bold')
ax_chl.spines['bottom'].set_visible(True)
ax_chl.tick_params(axis='x', direction='out', length=11.5, width=1.5, color=GREY,
                   labelcolor='black', pad=23, bottom=True)
ax_sal.tick_params(axis='x', bottom=False, labelbottom=False)

# axis titles
lab = dict(fontsize=35, fontweight='bold', color='black', rotation=90, va='center')
fig.text(72 / W, 1 - 346 / H, 'Salinity (ppt)', ha='center', **lab)
fig.text(281 / W, 1 - 340 / H, 'DO (mgL⁻¹)', ha='center', **lab)
fig.text(2852 / W, 1 - 342 / H, 'Temperature (°C)', ha='left', **lab)
fig.text(66 / W, 1 - 1022 / H, 'Chlorophyll (µgL⁻¹)', ha='center', **lab)
fig.text(293 / W, 1 - 895 / H, 'pH', ha='center', **lab)
fig.text(2852 / W, 1 - 1015 / H, 'Turbidity (NTU)', ha='left', **lab)

# legend entries across the top, each placed where the reference has it
legend_colors = [C_SAL, C_TEMP, C_DO, C_PH, '#b81e24', C_CHL]
legend_x = [494, 795, 1221, 1447, 1695, 2095]
for name, color, x in zip(legend_names, legend_colors, legend_x):
    h = Line2D([0], [0], color=color, lw=7, solid_capstyle='butt')
    fig.legend([h], [name], loc='center left', bbox_to_anchor=(x / W, 1 - 62 / H),
               frameon=False, fontsize=35, handlelength=1.5, handletextpad=0.12,
               borderpad=0, borderaxespad=0)

# grey frame edge on the left
fig.add_artist(Line2D([9 / W, 9 / W], [0, 1], transform=fig.transFigure, color='#808080', lw=3.6))

fig.savefig('out.png', dpi=100)
